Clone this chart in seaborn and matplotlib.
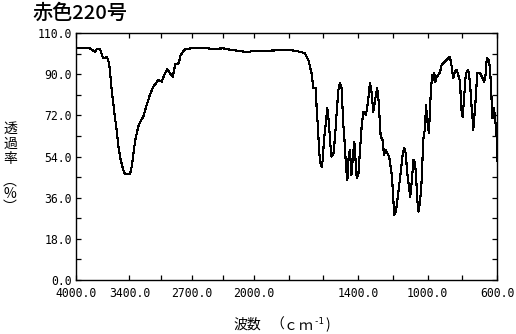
import numpy as np
import pandas as pd
import matplotlib
matplotlib.use("Agg")
import matplotlib.pyplot as plt
from matplotlib.ticker import FixedLocator
import seaborn as sns

# ---- data ----
wavenumber = [4000, 3850, 3787, 3760, 3730, 3697, 3652, 3629, 3618, 3599, 3581, 3562,
              3543, 3525, 3506, 3487, 3469, 3449, 3393, 3374, 3356, 3337, 3318, 3300,
              3281, 3244, 3206, 3169, 3131, 3075, 3037, 3000, 2974, 2944, 2913, 2884,
              2846, 2824, 2775, 2700, 2573, 2450, 2348, 2280, 2213, 2150, 2082, 2000,
              1908, 1794, 1735, 1706, 1687, 1668, 1658, 1643, 1639, 1633, 1626, 1620,
              1610, 1604, 1597, 1585, 1578, 1570, 1562, 1555, 1543, 1533, 1524, 1514,
              1505, 1495, 1486, 1476, 1470, 1462, 1454, 1447, 1439, 1431, 1422, 1414,
              1408, 1399, 1389, 1380, 1370, 1355, 1343, 1332, 1322, 1313, 1301, 1290,
              1282, 1270, 1259, 1251, 1240, 1232, 1221, 1212, 1205, 1197, 1192, 1182,
              1174, 1163, 1153, 1143, 1134, 1126, 1117, 1107, 1100, 1090, 1082, 1074,
              1067, 1059, 1053, 1044, 1034, 1025, 1015, 1009, 1002, 992, 986, 980,
              973, 967, 961, 955, 947, 938, 928, 919, 900, 881, 871, 861, 852, 842,
              832, 823, 813, 806, 798, 790, 783, 775, 766, 756, 748, 740, 737, 729,
              721, 714, 698, 687, 675, 667, 659, 648, 640, 632, 626, 617, 610, 602, 600]
transmittance = [101.5, 101.4, 99.8, 101.2, 101.0, 97.0, 97.5, 95.0, 91.0, 83.0, 77.0, 71.0,
                 65.6, 59.0, 54.0, 51.0, 48.0, 46.3, 46.3, 49.5, 54.7, 60.5, 64.0, 67.0,
                 69.0, 71.4, 76.5, 81.0, 84.5, 87.5, 86.7, 90.4, 92.1, 90.4, 88.9, 94.4,
                 94.7, 98.4, 100.9, 101.3, 101.5, 101.0, 101.3, 100.8, 100.4, 100.1, 99.6, 100.2,
                 100.3, 100.6, 99.8, 99.1, 96.2, 90.4, 83.8, 83.8, 74.3, 68.5, 58.3, 51.7,
                 49.5, 52.5, 61.2, 69.2, 75.1, 70.0, 61.2, 54.0, 54.7, 62.7, 72.9, 83.1,
                 86.0, 83.8, 68.5, 58.3, 49.5, 43.7, 54.7, 56.8, 45.9, 53.2, 60.5, 51.0,
                 44.5, 45.9, 56.8, 67.0, 73.6, 72.1, 78.0, 86.3, 81.6, 73.6, 79.4, 83.8,
                 78.0, 62.7, 61.2, 54.7, 56.8, 55.4, 54.0, 48.8, 45.2, 35.0, 28.4, 29.9,
                 35.0, 42.3, 48.1, 55.4, 57.6, 55.4, 46.6, 40.8, 36.4, 43.7, 52.5, 51.7,
                 46.6, 35.0, 29.9, 33.5, 43.7, 61.2, 66.3, 76.5, 70.0, 64.1, 75.1, 83.8,
                 89.6, 87.5, 90.4, 86.7, 88.9, 89.6, 91.1, 94.0, 95.5, 96.9, 97.7, 93.3, 88.2, 91.1,
                 91.8, 89.6, 86.7, 75.1, 71.4, 78.7, 87.5, 91.1, 91.8, 86.7, 77.3, 70.0, 65.6, 72.9,
                 80.9, 90.4, 90.4, 88.9, 86.7, 88.9, 96.9, 96.2, 92.6, 80.1, 70.7, 75.1, 70.0, 62.0, 52.0]

title = "赤色220号"
x_major = [4000, 3400, 2700, 2000, 1400, 1000, 600]
x_major_labels = ["4000.0", "3400.0", "2700.0", "2000.0", "1400.0", "1000.0", "600.0"]
x_minor = [3050, 2350, 1800, 1600, 1200, 800]
y_major = [0, 18, 36, 54, 72, 90, 108]
y_major_labels = ["0.0", "18.0", "36.0", "54.0", "72.0", "90.0", "110.0"]
y_minor = [9, 27, 45, 63, 81, 99]

df = pd.DataFrame({"wn": wavenumber, "T": transmittance})

sns.set_theme(style="ticks")
plt.rcParams['font.family'] = ['Noto Sans CJK JP', 'DejaVu Sans']

W, H = 516, 334
fig = plt.figure(figsize=(W / 100, H / 100), dpi=100)
fig.patch.set_facecolor("white")
ax = fig.add_axes([76 / W, (H - 280) / H, 421 / W, 247 / H])
ax.set_facecolor("white")

# piecewise-linear wavenumber axis (4000-2000 compressed), increasing transform
_wn = np.array([600.0, 2000.0, 4000.0])
_q = np.array([0.0, 243.0, 421.0])


def fwd(x):
    return np.interp(x, _wn, _q)


def inv(q):
    return np.interp(q, _q, _wn)


ax.set_xscale("function", functions=(fwd, inv))

sns.lineplot(data=df, x="wn", y="T", ax=ax, color="black", linewidth=0.8,
             sort=False, estimator=None, antialiased=False)

ax.set_xlim(4000, 600)
ax.set_ylim(0, 108)

ax.set_xticks(x_major, x_major_labels)
ax.xaxis.set_minor_locator(FixedLocator(x_minor))
ax.set_yticks(y_major, y_major_labels)
ax.yaxis.set_minor_locator(FixedLocator(y_minor))

for side in ["left", "right", "top", "bottom"]:
    ax.spines[side].set_visible(True)
    ax.spines[side].set_linewidth(1.0)
    ax.spines[side].set_color("black")

ax.tick_params(axis="both", which="both", direction="in", length=3.5, width=0.9,
               top=True, right=True, color="black")
ax.tick_params(axis="x", which="major", pad=5)
ax.tick_params(axis="y", which="major", pad=3)
for lab in ax.get_xticklabels() + ax.get_yticklabels():
    lab.set_family("DejaVu Sans Mono")
    lab.set_fontsize(8.3)
    lab.set_color("black")

ax.set_xlabel("")
ax.set_ylabel("")


def px(x, y):
    return x / W, 1 - y / H


# title
fig.text(*px(32, 13.5), title, fontsize=14.5, fontweight="medium", ha="left", va="center",
         color="black")

# vertical y label
for ch, yy in [("透", 128.5), ("過", 144), ("率", 159.5), ("︵", 181.5), ("%", 194), ("︶", 206.5)]:
    fig.text(*px(10, yy), ch, fontsize=10, ha="center", va="center", color="black")

# x label
fig.text(*px(233, 325), "波数", fontsize=10, ha="left", va="center", color="black")
fig.text(*px(277, 325), "（", fontsize=10, ha="center", va="center", color="black")
fig.text(*px(290, 326), "ｃ", fontsize=10, ha="center", va="center", color="black")
fig.text(*px(306, 326), "ｍ", fontsize=10, ha="center", va="center", color="black")
fig.text(*px(319, 322), "-1", fontsize=6.5, ha="center", va="center", color="black",
         family="DejaVu Sans Mono")
fig.text(*px(328, 325), ")", fontsize=10, ha="center", va="center", color="black")

fig.savefig("out.png", dpi=100)
